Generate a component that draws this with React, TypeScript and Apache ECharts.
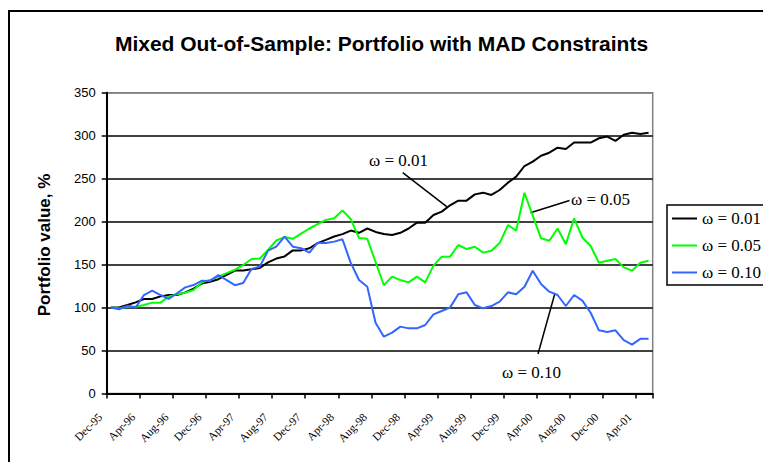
import React, { useEffect, useRef } from "react";
import * as echarts from "echarts";

const categories = [
  "Dec-95",
  "Jan-96", "Feb-96", "Mar-96", "Apr-96", "May-96", "Jun-96", "Jul-96", "Aug-96", "Sep-96", "Oct-96", "Nov-96", "Dec-96",
  "Jan-97", "Feb-97", "Mar-97", "Apr-97", "May-97", "Jun-97", "Jul-97", "Aug-97", "Sep-97", "Oct-97", "Nov-97", "Dec-97",
  "Jan-98", "Feb-98", "Mar-98", "Apr-98", "May-98", "Jun-98", "Jul-98", "Aug-98", "Sep-98", "Oct-98", "Nov-98", "Dec-98",
  "Jan-99", "Feb-99", "Mar-99", "Apr-99", "May-99", "Jun-99", "Jul-99", "Aug-99", "Sep-99", "Oct-99", "Nov-99", "Dec-99",
  "Jan-00", "Feb-00", "Mar-00", "Apr-00", "May-00", "Jun-00", "Jul-00", "Aug-00", "Sep-00", "Oct-00", "Nov-00", "Dec-00",
  "Jan-01", "Feb-01", "Mar-01", "Apr-01", "May-01",
];

const omega001 = [
  100, 100, 103, 106, 110, 110, 113, 114.6, 114.6, 117.7, 122, 128, 130, 133, 138, 143,
  143, 144.5, 146, 152.6, 157, 159.5, 166.5, 166.5, 169, 175, 178.8, 182.7, 185.4, 189.6,
  187, 192, 188, 185.6, 184.4, 187, 192, 198.8, 198.8, 207.7, 211.6, 219, 224.4, 224.4,
  231.7, 233.7, 231, 236.8, 245.3, 252.3, 264.7, 269.8, 276.7, 280.2, 286, 284.5, 292,
  292, 292, 297, 299, 294, 301, 303.5, 302, 303.5,
];

const omega005 = [
  100, 99, 101, 101, 103, 105.7, 105.7, 112.7, 115.4, 117.3, 120.4, 129.3, 132, 136, 140,
  144, 149.5, 156.5, 157, 167, 178, 182, 180, 186, 192, 197, 202, 204, 213, 203, 181, 180,
  153, 126, 136, 132, 129.3, 136, 129.3, 148.8, 159.2, 159.2, 172.8, 168.1, 170.8, 163.9,
  166.2, 175, 196, 189.6, 233.6, 207, 180.6, 177.8, 192, 173.6, 203.8, 181.5, 171.6, 152.2,
  154.5, 156.5, 146.8, 142.9, 152.2, 154.5,
];

const omega010 = [
  100, 98, 102, 100, 114.6, 119.7, 114.6, 110, 116.6, 123.5, 126.2, 131.3, 131, 137.9, 132,
  126, 128.5, 144.9, 147.6, 166.2, 170.8, 182.5, 170.8, 169, 163.9, 175.5, 175, 176.7, 179.4,
  152, 132, 124.3, 82.4, 66.1, 70.8, 77.8, 75.8, 75.8, 79.7, 92.1, 96, 99.9, 115.4, 117.7,
  103, 99.1, 101.8, 106.9, 117.7, 115.4, 124.3, 142.9, 127.4, 118.5, 114.6, 101.8, 114.6,
  108, 94, 73.5, 71.5, 73.5, 62, 56.8, 63.6, 63.8,
];

const seriesNames = ["ω = 0.01", "ω = 0.05", "ω = 0.10"];
const seriesColors = ["#000000", "#00ff00", "#3366ff"];

const yMin = 0;
const yMax = 350;
const yInterval = 50;

export default function App() {
  const ref = useRef<HTMLDivElement>(null);

  useEffect(() => {
    if (!ref.current) return;
    const chart = echarts.init(ref.current, undefined, { renderer: "svg" });
    const serif = "'Liberation Serif', 'Times New Roman', serif";
    const sans = "'Liberation Sans', Arial, sans-serif";
    const data = [omega001, omega005, omega010];

    chart.setOption({
      animation: false,
      backgroundColor: "#ffffff",
      title: {
        text: "Mixed Out-of-Sample: Portfolio with MAD Constraints",
        left: "center",
        top: 33,
        padding: 0,
        textStyle: { fontFamily: sans, fontSize: 21, fontWeight: "bold", color: "#000" },
      },
      legend: {
        orient: "vertical",
        left: 667,
        top: 205,
        itemWidth: 25,
        itemHeight: 2,
        itemGap: 10,
        icon: "rect",
        padding: [5, 30, 4, 5],
        borderColor: "#000",
        borderWidth: 1.5,
        textStyle: { fontFamily: serif, fontSize: 17, lineHeight: 16, color: "#000" },
        data: seriesNames,
      },
      grid: {
        left: 106.7,
        right: 110.3,
        top: 92.7,
        bottom: 68.5,
        show: true,
        borderColor: "#808080",
        borderWidth: 1.5,
        backgroundColor: "transparent",
      },
      xAxis: {
        type: "category",
        data: categories,
        boundaryGap: true,
        axisLine: { lineStyle: { color: "#000", width: 2 } },
        axisTick: { show: true, interval: 3, length: 5, lineStyle: { color: "#000", width: 1.5 } },
        axisLabel: {
          interval: 3,
          rotate: 45,
          margin: 11,
          padding: [0, 15, 0, 0],
          fontFamily: serif,
          fontSize: 11.5,
          color: "#000",
        },
        splitLine: { show: false },
      },
      yAxis: {
        type: "value",
        min: yMin,
        max: yMax,
        interval: yInterval,
        axisLine: { show: true, lineStyle: { color: "#000", width: 2 } },
        axisTick: { show: true, length: 5, lineStyle: { color: "#000", width: 1.5 } },
        axisLabel: { margin: 11, fontFamily: sans, fontSize: 13, color: "#000" },
        splitLine: {
          show: true,
          lineStyle: {
            color: ["#000", "#000", "#000", "#000", "#000", "#000", "#000", "#808080"],
            width: 1.5,
          },
        },
      },
      series: seriesNames.map((name, k) => ({
        name,
        type: "line",
        data: data[k],
        symbol: "none",
        showSymbol: false,
        color: seriesColors[k],
        lineStyle: { color: seriesColors[k], width: 2 },
      })),
      graphic: [
        {
          type: "rect",
          shape: { x: 9, y: 11, width: 800, height: 500 },
          style: { fill: "none", stroke: "#000", lineWidth: 2 },
          silent: true,
        },
        {
          type: "text",
          x: 44,
          y: 245,
          rotation: Math.PI / 2,
          style: {
            text: "Portfolio value, %",
            fontFamily: sans,
            fontSize: 17,
            fontWeight: "bold",
            fill: "#000",
            align: "center",
            verticalAlign: "middle",
          },
        },
        {
          type: "text",
          x: 369,
          y: 160,
          style: { text: "ω = 0.01", fontFamily: serif, fontSize: 17, fill: "#000", align: "left", verticalAlign: "middle" },
        },
        {
          type: "line",
          shape: { x1: 402.7, y1: 172.7, x2: 446.7, y2: 206.7 },
          style: { stroke: "#000", lineWidth: 1.5 },
        },
        {
          type: "text",
          x: 571,
          y: 199,
          style: { text: "ω = 0.05", fontFamily: serif, fontSize: 17, fill: "#000", align: "left", verticalAlign: "middle" },
        },
        {
          type: "line",
          shape: { x1: 569.5, y1: 200.5, x2: 530.5, y2: 212.7 },
          style: { stroke: "#000", lineWidth: 1.5 },
        },
        {
          type: "text",
          x: 502,
          y: 372,
          style: { text: "ω = 0.10", fontFamily: serif, fontSize: 17, fill: "#000", align: "left", verticalAlign: "middle" },
        },
        {
          type: "line",
          shape: { x1: 555, y1: 293, x2: 538, y2: 354 },
          style: { stroke: "#000", lineWidth: 1.5 },
        },
      ],
    });

    return () => chart.dispose();
  }, []);

  return (
    <div
      ref={ref}
      style={{ position: "fixed", left: 0, top: 0, width: 763, height: 462, background: "#fff" }}
    />
  );
}
